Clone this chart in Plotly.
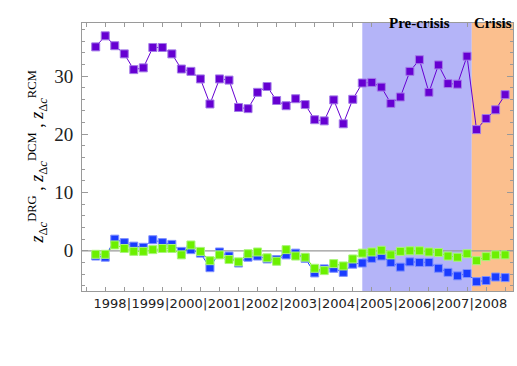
import plotly.graph_objects as go

# quarterly points, 1998 Q1 .. 2008 Q4
quarter_idx = list(range(44))

rcm = [35.0, 36.9, 35.2, 33.8, 31.1, 31.4, 34.9, 34.9, 33.8, 31.2,
       30.8, 29.5, 25.2, 29.5, 29.3, 24.6, 24.4, 27.2, 28.2, 25.8,
       24.9, 26.1, 25.1, 22.5, 22.3, 25.9, 21.8, 26.0, 28.8, 28.9,
       28.1, 25.3, 26.4, 30.8, 32.8, 27.2, 31.9, 28.7, 28.6, 33.4,
       20.8, 22.7, 24.2, 26.8]

dcm = [-0.9, -1.1, 2.0, 1.4, 0.8, 0.6, 1.9, 1.4, 1.1, -0.1,
       0.2, -0.4, -2.9, -0.2, -0.9, -2.1, -1.1, -0.9, -1.4, -1.5,
       -0.7, -0.4, -1.3, -3.8, -3.1, -3.0, -3.7, -2.3, -2.1, -1.3,
       -0.9, -2.0, -2.8, -1.9, -2.0, -2.0, -3.0, -3.7, -4.3, -3.9,
       -5.3, -5.1, -4.5, -4.6]

drg = [-0.6, -0.6, 1.0, 0.4, -0.1, -0.1, 0.2, 0.4, 0.4, -0.7,
       1.0, -0.1, -1.7, -0.7, -1.5, -1.9, -0.5, -0.2, -1.2, -1.8,
       0.2, -0.9, -1.1, -3.0, -3.4, -2.2, -2.6, -1.4, -0.4, -0.2,
       0.1, -0.7, -0.1, 0.0, 0.0, -0.2, -0.3, -0.9, -1.1, -0.5,
       -1.7, -1.0, -0.7, -0.7]

years = ['1998', '1999', '2000', '2001', '2002', '2003', '2004', '2005', '2006', '2007', '2008']

# periods (in quarter index units)
precrisis = (28, 39.5)
crisis = (39.5, 43.83)

frame_col = '#9a9a9a'

fig = go.Figure()

def add_series(y, fill, edge):
    fig.add_trace(go.Scatter(
        x=quarter_idx, y=y, mode='lines+markers',
        line=dict(color=fill, width=1),
        marker=dict(symbol='square', size=8, color=fill, line=dict(color=edge, width=1)),
        showlegend=False, hoverinfo='skip'))

add_series(rcm, '#6600d2', '#a37ae8')
add_series(dcm, '#1a3cff', '#7f90ff')
add_series(drg, '#6cf000', '#a9f57a')

# shaded periods and zero line
fig.add_shape(type='rect', xref='x', yref='paper', x0=precrisis[0], x1=precrisis[1], y0=0, y1=1,
              fillcolor='#b4b4f8', line_width=0, layer='below')
fig.add_shape(type='rect', xref='x', yref='paper', x0=crisis[0], x1=crisis[1], y0=0, y1=1,
              fillcolor='#fbbf8e', line_width=0, layer='below')
fig.add_shape(type='line', xref='paper', yref='y', x0=0, x1=1, y0=0, y1=0,
              line=dict(color='#999999', width=1.3), layer='below')

fig.add_annotation(text='<b>Pre-crisis</b>', x=34.0, xref='x', y=1.037, yref='paper',
                   showarrow=False, font=dict(family='Liberation Serif', size=15, color='black'))
fig.add_annotation(text='<b>Crisis</b>', x=41.7, xref='x', y=1.037, yref='paper',
                   showarrow=False, font=dict(family='Liberation Serif', size=15, color='black'))

ylab = ('<i>z</i><sub>Δ<i>c</i></sub><sup>DRG</sup> , '
        '<i>z</i><sub>Δ<i>c</i></sub><sup>DCM</sup> , '
        '<i>z</i><sub>Δ<i>c</i></sub><sup>RCM</sup>')
fig.add_annotation(text=ylab, xref='paper', x=-0.139, yref='paper', y=0.5, textangle=-90,
                   showarrow=False, font=dict(family='Liberation Serif', size=18, color='black'))

# year labels with separators between them
tickvals = []
ticktext = []
for k, yr in enumerate(years):
    tickvals.append(1.5 + 4 * k)
    ticktext.append(yr)
    if k < len(years) - 1:
        tickvals.append(3.5 + 4 * k)
        ticktext.append('|')

fig.update_xaxes(range=[-1.44, 43.83], tickmode='array', tickvals=tickvals, ticktext=ticktext,
                 ticks='', tickangle=0, showgrid=False, zeroline=False,
                 showline=True, linecolor=frame_col, linewidth=1, mirror='ticks',
                 tickfont=dict(family='DejaVu Sans', size=13, color='#222222'),
                 minor=dict(tickmode='array', tickvals=list(range(-1, 44, 2)), ticks='inside',
                            ticklen=4, tickcolor=frame_col, showgrid=False))
fig.update_yaxes(range=[-6.9, 39.1], tickvals=[0, 10, 20, 30], ticks='inside', ticklen=6,
                 tickcolor=frame_col, showgrid=False, zeroline=False,
                 showline=True, linecolor=frame_col, linewidth=1, mirror='ticks',
                 ticklabelstandoff=4,
                 tickfont=dict(family='Liberation Serif', size=19, color='#222222'),
                 minor=dict(dtick=2, tick0=0, ticks='inside', ticklen=3, tickcolor=frame_col,
                            showgrid=False))

fig.update_layout(width=517, height=366, margin=dict(l=82, r=4, t=23, b=75),
                  plot_bgcolor='white', paper_bgcolor='white')

# drop the page's default body margin so the figure fills the window without scrollbars
fig.write_html("out.html", config={'displayModeBar': False},
               post_script="document.body.style.margin='0';document.body.style.overflow='hidden';")
